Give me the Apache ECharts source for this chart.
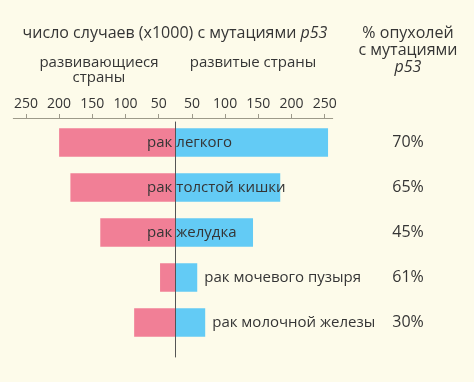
<!DOCTYPE html>
<html><head><meta charset="utf-8">
<script src="https://cdn.jsdelivr.net/npm/echarts@6/dist/echarts.min.js"></script>
<style>html,body{margin:0;padding:0;background:#FDFBEA}#c{width:474px;height:382px}</style>
</head><body><div id="c"></div>
<script>
const categories = ['рак легкого', 'рак толстой кишки', 'рак желудка', 'рак мочевого пузыря', 'рак молочной железы'];
const developing = [200, 183, 138, 48, 87];
const developed = [255, 183, 142, 58, 70];
const percentMutated = ['70%', '65%', '45%', '61%', '30%'];
const tickLabels = [250, 200, 150, 100, 50];
const centreValue = 25; // value read at the centre line by the printed ticks

const toLeft = v => -(v - centreValue);
const toRight = v => v - centreValue;
const tickPos = [...tickLabels.map(toLeft), ...tickLabels.slice().reverse().map(toRight)];

const font = 'Open Sans';
const txt = '#353535';

const leftData = developing.map((v, i) => {
  const inside = developed[i] > 100;
  return {
    value: toLeft(v),
    label: inside ? { show: true, position: 'insideRight', distance: 3, formatter: categories[i].split(' ')[0] } : { show: false }
  };
});
const rightData = developed.map((v, i) => {
  const inside = v > 100;
  const parts = categories[i].split(' ');
  return {
    value: toRight(v),
    label: inside
      ? { show: true, position: 'insideLeft', distance: 1, formatter: parts.slice(1).join(' ') }
      : { show: true, position: 'right', distance: 7, formatter: categories[i] }
  };
});

const chart = echarts.init(document.getElementById('c'), null, { renderer: 'canvas' });
const xMin = -244, xMax = 237;
chart.setOption({
  backgroundColor: '#FDFBEA',
  animation: false,
  textStyle: { fontFamily: font },
  grid: [
    { left: 13.3, right: 141.3, top: 120, height: 225 },
    { left: 13.3, right: 141.3, top: 122, bottom: 25 }
  ],
  xAxis: [
    {
      type: 'value', gridIndex: 0, position: 'top', offset: 2, min: xMin, max: xMax,
      axisLine: { show: true, lineStyle: { color: '#9d9a8a', width: 1 } },
      axisTick: { show: true, customValues: tickPos, length: 4, lineStyle: { color: '#9d9a8a' } },
      axisLabel: { customValues: tickPos, formatter: v => String(Math.round(Math.abs(v) + centreValue)), color: txt, fontSize: 14, margin: 7, fontFamily: font },
      splitLine: { show: false }
    },
    { type: 'value', gridIndex: 1, min: xMin, max: xMax, show: false }
  ],
  yAxis: [
    { type: 'category', gridIndex: 0, data: categories, inverse: true, axisLine: { show: false }, axisTick: { show: false }, axisLabel: { show: false } },
    { type: 'category', gridIndex: 0, data: percentMutated, inverse: true, position: 'right', axisLine: { show: false }, axisTick: { show: false },
      axisLabel: { show: true, align: 'center', margin: 75.3, color: txt, fontSize: 16, fontFamily: font } },
    { type: 'value', gridIndex: 1, min: 0, max: 1, z: 10, axisLine: { show: true, onZero: true, lineStyle: { color: '#555', width: 1 } },
      axisTick: { show: false }, axisLabel: { show: false }, splitLine: { show: false } }
  ],
  series: [
    { type: 'bar', xAxisIndex: 0, yAxisIndex: 0, data: leftData, barWidth: 28.5, barGap: '-100%', itemStyle: { color: '#F17F96' },
      label: { color: txt, fontSize: 15, fontFamily: font } },
    { type: 'bar', xAxisIndex: 0, yAxisIndex: 0, data: rightData, barWidth: 28.5, barGap: '-100%', itemStyle: { color: '#63CBF5' },
      label: { color: txt, fontSize: 15, fontFamily: font } }
  ],
  graphic: [
    { type: 'text', x: 175, y: 33, style: { text: 'число случаев (x1000) с мутациями {i|p53}', align: 'center', verticalAlign: 'middle', fill: txt, font: '16px "Open Sans"', rich: { i: { fontStyle: 'italic', fontSize: 16, fontFamily: font, fill: txt } } } },
    { type: 'text', x: 99, y: 70.5, style: { text: 'развивающиеся\nстраны', align: 'center', verticalAlign: 'middle', fill: txt, font: '15px "Open Sans"', lineHeight: 15 } },
    { type: 'text', x: 253, y: 63, style: { text: 'развитые страны', align: 'center', verticalAlign: 'middle', fill: txt, font: '15px "Open Sans"' } },
    { type: 'text', x: 408, y: 50, style: { text: '% опухолей\nс мутациями\n{i|p53}', align: 'center', verticalAlign: 'middle', fill: txt, font: '16px "Open Sans"', lineHeight: 17, rich: { i: { fontStyle: 'italic', fontSize: 16, fontFamily: font, fill: txt, lineHeight: 17 } } } }
  ]
});
</script></body></html>
